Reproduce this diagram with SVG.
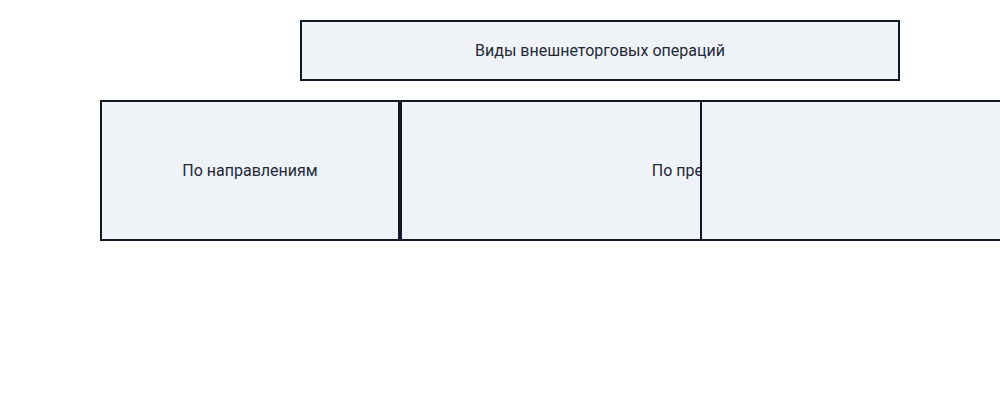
<svg xmlns="http://www.w3.org/2000/svg" width="1000" height="400" viewBox="0 0 1000 400">
<style>
.box{fill:#eff3f8;stroke:#111827;stroke-width:2}
.lbl{font-family:Roboto,"Noto Sans",sans-serif;font-size:16px;fill:#1f2937;text-anchor:middle;dominant-baseline:central}
</style>
<rect width="1000" height="400" fill="#ffffff"/>
<g id="root">
<rect class="box" x="301" y="21" width="598" height="59"/>
<text class="lbl" x="600" y="50">Виды внешнеторговых операций</text>
</g>
<g id="connectors"></g>
<g id="by-direction">
<rect class="box" x="101" y="101" width="298" height="139"/>
<text class="lbl" x="250" y="170">По направлениям</text>
</g>
<g id="by-subject">
<rect class="box" x="401" y="101" width="598" height="139"/>
<text class="lbl" x="700" y="170">По предмету</text>
</g>
<g id="third">
<rect class="box" x="701" y="101" width="598" height="139"/>
</g>
</svg>
